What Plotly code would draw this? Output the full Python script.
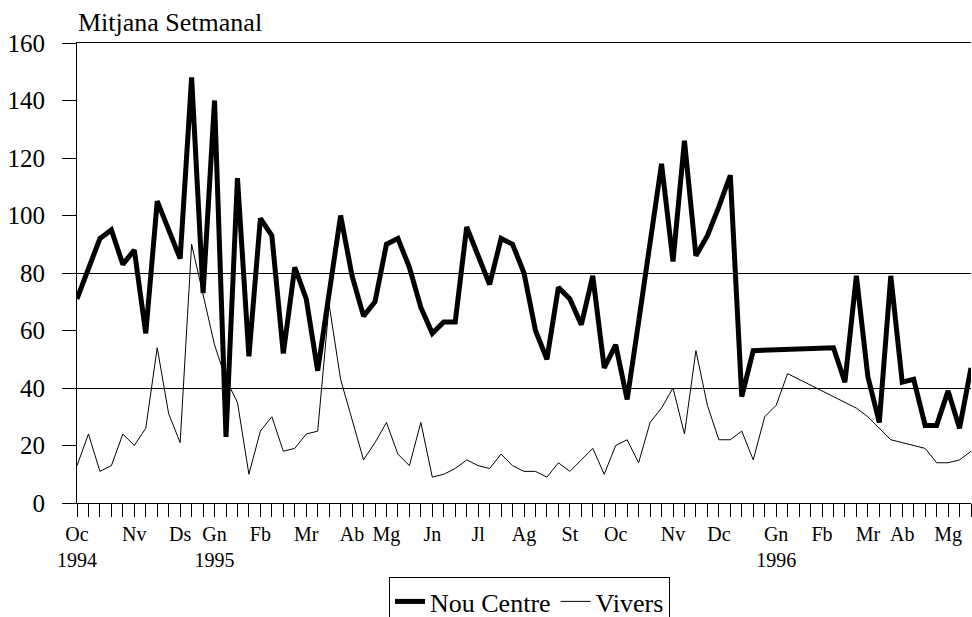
import plotly.graph_objects as go

weeks = list(range(79))

nou_centre = [71, 81, 92, 95, 83, 88, 59, 105, 95, 85,
              148, 73, 140, 23, 113, 51, 99, 93, 52, 82,
              71, 46, 73, 100, 79, 65, 70, 90, 92, 82,
              68, 59, 63, 63, 96, 86, 76, 92, 90, 80,
              60, 50, 75, 71, 62, 79, 47, 55, 36, 63,
              91, 118, 84, 126, 86, 93, 103, 114, 37, 53,
              None, None, None, None, None, None, 54, 42, 79, 44,
              28, 79, 42, 43, 27, 27, 39, 26, 47]

vivers = [13, 24, 11, 13, 24, 20, 26, 54, 31, 21,
          90, 72, 55, 43, 35, 10, 25, 30, 18, 19,
          24, 25, 69, 43, 29, 15, 21, 28, 17, 13,
          28, 9, 10, 12, 15, 13, 12, 17, 13, 11,
          11, 9, 14, 11, 15, 19, 10, 20, 22, 14,
          28, 33, 40, 24, 53, 34, 22, 22, 25, 15,
          30, 34, 45, None, None, None, None, None, 33, 30,
          26, 22, 21, 20, 19, 14, 14, 15, 18]

month_positions = [0, 5, 9, 12, 16, 20, 24, 27, 31, 35, 39, 43, 47, 52, 56, 61, 65, 69, 72, 76]
month_labels = ["Oc<br>1994", "Nv", "Ds", "Gn<br>1995", "Fb", "Mr", "Ab", "Mg", "Jn", "Jl",
                "Ag", "St", "Oc", "Nv", "Dc", "Gn<br>1996", "Fb", "Mr", "Ab", "Mg"]

y_ticks = [0, 20, 40, 60, 80, 100, 120, 140, 160]
grid_values = [40, 80, 160]

label_map = dict(zip(month_positions, month_labels))
tick_text = [label_map.get(w, "") for w in weeks]

FONT = "Liberation Serif"

fig = go.Figure()
fig.add_trace(go.Scatter(x=weeks, y=nou_centre, mode="lines", name="Nou Centre",
                         line=dict(color="black", width=5), connectgaps=True))
fig.add_trace(go.Scatter(x=weeks, y=vivers, mode="lines", name="Vivers",
                         line=dict(color="black", width=1), connectgaps=True))
# helper trace carrying the sparse gridline axis
fig.add_trace(go.Scatter(x=[weeks[0]], y=[None], yaxis="y2", showlegend=False,
                         hoverinfo="skip", mode="lines"))

fig.update_layout(
    width=972, height=617,
    margin=dict(l=77, r=1, t=43, b=114, autoexpand=False),
    paper_bgcolor="white", plot_bgcolor="white",
    font=dict(family=FONT, color="black"),
    title=dict(text="Mitjana Setmanal", font=dict(family=FONT, size=26, color="black"),
               x=78 / 972, xref="container", xanchor="left", y=1 - 22 / 617, yref="container",
               yanchor="middle", automargin=False),
    showlegend=True,
    legend=dict(orientation="h", x=529.5 / 972, xanchor="center", xref="container",
                y=1 - 577 / 617, yanchor="top", yref="container",
                bordercolor="black", borderwidth=1,
                font=dict(family=FONT, size=26, color="black"),
                bgcolor="white", itemwidth=30, tracegroupgap=0),
    xaxis=dict(range=[0, 78], tickmode="array", tickvals=weeks, ticktext=tick_text,
               ticks="outside", ticklen=13, tickwidth=1, tickcolor="black",
               showline=True, linecolor="black", linewidth=1, mirror=True,
               showgrid=False, zeroline=False, tickangle=0, automargin=False,
               tickfont=dict(family=FONT, size=20, color="black")),
    yaxis=dict(range=[0, 160], tickmode="array", tickvals=y_ticks,
               ticks="outside", ticklen=14, tickwidth=1, tickcolor="black",
               showline=True, linecolor="black", linewidth=1, automargin=False,
               showgrid=False, zeroline=False, ticklabelstandoff=12,
               tickfont=dict(family=FONT, size=25, color="black")),
    yaxis2=dict(range=[0, 160], overlaying="y", side="left", tickmode="array",
                tickvals=grid_values, showticklabels=False, ticks="",
                showgrid=True, gridcolor="black", gridwidth=1, zeroline=False,
                showline=False, automargin=False),
)

fig.write_html("out.html",
               config={"displayModeBar": False},
               post_script="document.body.style.margin='0';document.body.style.overflow='hidden';")
